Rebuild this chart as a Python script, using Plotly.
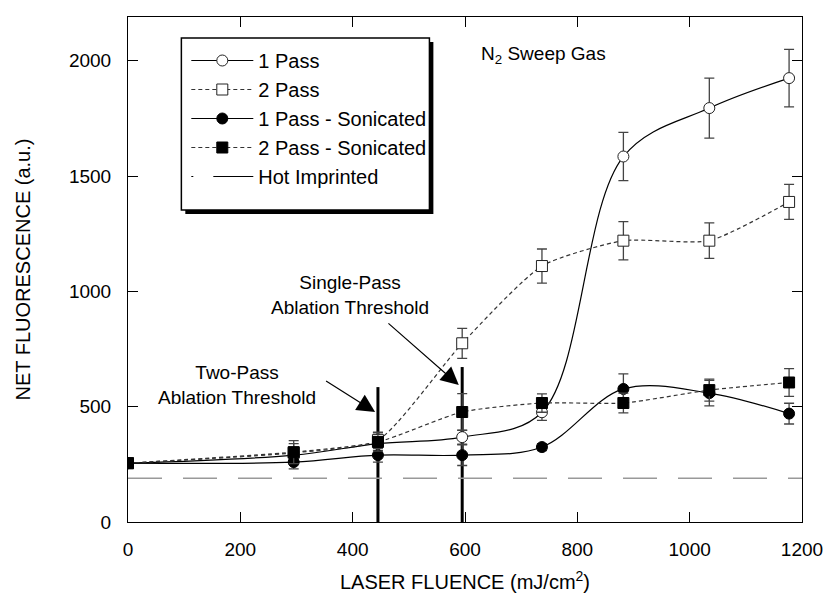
import plotly.graph_objects as go

# ---------------- data ----------------
fluence = [0, 295, 445, 595, 737, 882, 1035, 1177]
one_pass = [255, 290, 340, 368, 476, 1585, 1795, 1925]
one_pass_err = [15, 30, 30, 30, 35, 105, 130, 125]
two_pass = [255, 300, 355, 775, 1110, 1220, 1220, 1388]
two_pass_err = [15, 40, 35, 65, 74, 83, 77, 76]
one_pass_son = [255, 260, 290, 290, 325, 577, 559, 470]
one_pass_son_err = [15, 30, 30, 45, 15, 65, 55, 45]
two_pass_son = [255, 303, 347, 477, 516, 516, 572, 605]
two_pass_son_err = [15, 50, 40, 80, 40, 43, 48, 60]
hot_x = [0, 1200]
hot_y = [190, 190]
threshold_x = [445, 595]
threshold_top = [585, 672]
x_ticks = [0, 200, 400, 600, 800, 1000, 1200]
y_ticks = [0, 500, 1000, 1500, 2000]

FONT = "Liberation Sans, Arial, sans-serif"
W, H = 835, 610
ML, MR, MT, MB = 128, 25, 17, 88
PW, PH = W - ML - MR, H - MT - MB


def px_x(p):
    return (p - ML) / PW


def px_y(p):
    return (H - MB - p) / PH


fig = go.Figure()

# threshold bars
for tx, tt in zip(threshold_x, threshold_top):
    fig.add_trace(go.Scatter(x=[tx, tx], y=[0, tt], mode="lines",
                             line=dict(color="black", width=3),
                             showlegend=False, hoverinfo="skip"))

eb = lambda arr: dict(type="data", array=arr, visible=True, color="#444",
                      thickness=1.3, width=5)
DOT = "4px,3px"

fig.add_trace(go.Scatter(
    x=fluence, y=one_pass, name="1 Pass", mode="lines+markers",
    line=dict(color="black", width=1.2, shape="spline", smoothing=1.0),
    marker=dict(symbol="circle", size=11, color="white",
                line=dict(color="#222", width=1)),
    error_y=eb(one_pass_err)))
fig.add_trace(go.Scatter(
    x=fluence, y=two_pass, name="2 Pass", mode="lines+markers",
    line=dict(color="#333", width=1.2, dash=DOT, shape="spline", smoothing=0.6),
    marker=dict(symbol="square", size=11, color="white",
                line=dict(color="#222", width=1)),
    error_y=eb(two_pass_err)))
fig.add_trace(go.Scatter(
    x=fluence, y=one_pass_son, name="1 Pass - Sonicated", mode="lines+markers",
    line=dict(color="black", width=1.2, shape="spline", smoothing=1.0),
    marker=dict(symbol="circle", size=11, color="black",
                line=dict(color="black", width=1)),
    error_y=eb(one_pass_son_err)))
fig.add_trace(go.Scatter(
    x=fluence, y=two_pass_son, name="2 Pass - Sonicated", mode="lines+markers",
    line=dict(color="#333", width=1.2, dash=DOT, shape="spline", smoothing=0.6),
    marker=dict(symbol="square", size=11, color="black",
                line=dict(color="black", width=1)),
    error_y=eb(two_pass_son_err)))
# hot imprinted baseline (plot) + legend entry in the reference's black style
fig.add_trace(go.Scatter(
    x=hot_x, y=hot_y, name="Hot Imprinted", mode="lines", showlegend=False,
    line=dict(color="#999", width=1.5, dash="34px,21px")))
fig.add_trace(go.Scatter(
    x=[None], y=[None], name="Hot Imprinted", mode="lines",
    line=dict(color="black", width=1.2, dash="2px,20px,40px,200px")))

axis_common = dict(showline=True, linecolor="black", linewidth=1, mirror="ticks",
                   ticks="inside", ticklen=10, tickcolor="black", tickwidth=1,
                   showgrid=False, zeroline=False,
                   tickfont=dict(family=FONT, size=19, color="black"))

fig.update_layout(
    width=W, height=H,
    margin=dict(l=ML, r=MR, t=MT, b=MB),
    paper_bgcolor="white", plot_bgcolor="white",
    font=dict(family=FONT, size=19, color="black"),
    xaxis=dict(range=[0, 1200], tickvals=x_ticks, ticklabelstandoff=10,
               title=dict(text="LASER FLUENCE (mJ/cm<sup>2</sup>)",
                          font=dict(family=FONT, size=20), standoff=16),
               **axis_common),
    yaxis=dict(range=[0, 2190], tickvals=y_ticks, ticklabelstandoff=12,
               title=dict(text="NET FLUORESCENCE (a.u.)",
                          font=dict(family=FONT, size=20), standoff=32),
               **axis_common),
    legend=dict(x=px_x(187), y=px_y(41), xanchor="left", yanchor="top",
                bgcolor="rgba(0,0,0,0)", borderwidth=0,
                font=dict(family=FONT, size=20, color="black"),
                itemwidth=62, tracegroupgap=0),
    showlegend=True,
)

# legend box with drop shadow
fig.add_shape(type="rect", xref="paper", yref="paper",
              x0=px_x(186), x1=px_x(437), y0=px_y(214), y1=px_y(42),
              fillcolor="black", line=dict(width=0), layer="above")
fig.add_shape(type="rect", xref="paper", yref="paper",
              x0=px_x(182), x1=px_x(433), y0=px_y(210), y1=px_y(38),
              fillcolor="white", line=dict(color="black", width=1.5), layer="above")

# texts
fig.add_annotation(x=625, y=2025, xref="x", yref="y", xanchor="left",
                   text="N<sub>2</sub> Sweep Gas", showarrow=False,
                   font=dict(family=FONT, size=19))
fig.add_annotation(x=396, y=986, xref="x", yref="y",
                   text="Single-Pass<br>Ablation Threshold", showarrow=False,
                   font=dict(family=FONT, size=19))
fig.add_annotation(x=194, y=596, xref="x", yref="y",
                   text="Two-Pass<br>Ablation Threshold", showarrow=False,
                   font=dict(family=FONT, size=19))

# arrows
for (tx, ty, hx, hy) in [(461, 867, 589, 594), (350, 616, 440, 477)]:
    fig.add_annotation(x=hx, y=hy, ax=tx, ay=ty, xref="x", yref="y",
                       axref="x", ayref="y", text="", showarrow=True,
                       arrowhead=2, arrowsize=3, arrowwidth=1.2,
                       arrowcolor="black")

fig.write_html("out.html",
               config={"displayModeBar": False},
               post_script="document.body.style.margin='0px';"
                           "document.body.style.overflow='hidden';")
